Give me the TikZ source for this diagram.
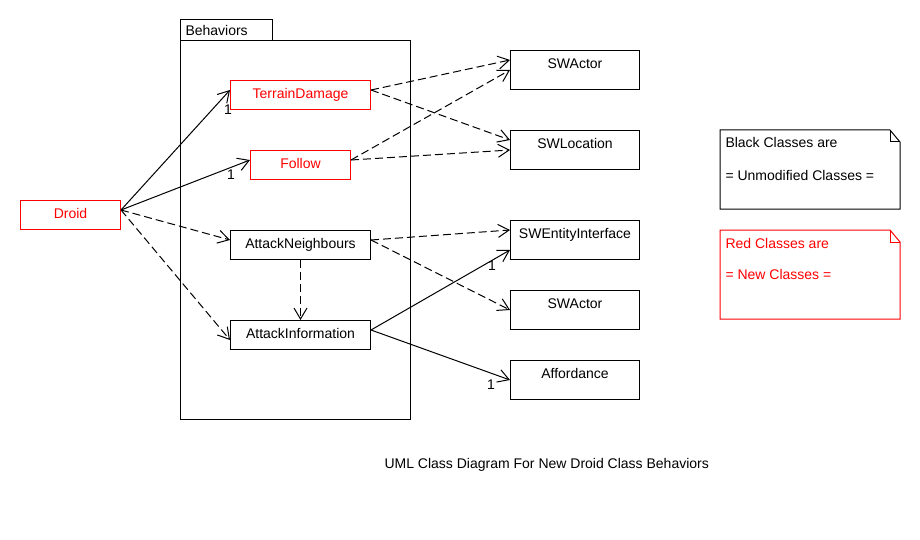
\documentclass[tikz,border=0pt]{standalone}
\usepackage{fontspec}
\setmainfont{Liberation Sans}
\usetikzlibrary{arrows.meta}

\begin{document}
\begin{tikzpicture}[x=1pt,y=-1pt,line width=1pt,
    font=\fontsize{14}{17}\selectfont,
    small_class/.style={draw,rectangle,anchor=north west,minimum height=29pt,text height=10pt,text depth=3pt,inner sep=0pt},
    big_class/.style={draw,rectangle,anchor=north west,minimum width=129pt,minimum height=39pt,text height=10pt,text depth=12.5pt,inner sep=0pt},
    new_class/.style={small_class,red,text=red},
    plain_text/.style={anchor=base west,inner sep=0pt},
    mult/.style={inner sep=0pt,text height=10pt,text depth=0pt},
    solid_link/.style={-{Straight Barb[length=11pt,width=13pt]}},
    dashed_link/.style={solid_link,dash pattern=on 8pt off 4pt}]

    \useasboundingbox (0,0) rectangle (920,540);

    % package
    \draw (180,20) rectangle (272,41);
    \draw (180,41) rectangle (410,419);
    \node[plain_text] (pkg) at (185,36) {Behaviors};

    % classes
    \node[new_class,minimum width=100pt] (droid) at (20,200) {Droid};
    \node[new_class,minimum width=140pt] (terrain) at (230,80) {TerrainDamage};
    \node[new_class,minimum width=100pt] (follow) at (250,150) {Follow};
    \node[small_class,minimum width=140pt] (neigh) at (230,230) {AttackNeighbours};
    \node[small_class,minimum width=140pt] (info) at (230,320) {AttackInformation};

    \node[big_class] (actorA) at (510,50) {SWActor};
    \node[big_class] (location) at (510,130) {SWLocation};
    \node[big_class] (entity) at (510,220) {SWEntityInterface};
    \node[big_class] (actorB) at (510,290) {SWActor};
    \node[big_class] (afford) at (510,360) {Affordance};

    \path[solid_link]
    ([yshift=-10pt]droid.north east) edge node[mult,pos=1,xshift=-2pt,yshift=-20pt] (m1) {1} ([yshift=-10pt]terrain.north west)
    ([yshift=-10pt]droid.north east) edge node[mult,pos=1,xshift=-19pt,yshift=-14pt] (m2) {1} ([yshift=-10pt]follow.north west)
    ([yshift=-10pt]info.north east) edge node[mult,pos=1,xshift=-18pt,yshift=-15pt] (m3) {1} ([yshift=-30pt]entity.north west)
    ([yshift=-10pt]info.north east) edge node[mult,pos=1,xshift=-19pt,yshift=-4pt] (m4) {1} ([yshift=-20pt]afford.north west);

    \path[dashed_link]
    ([yshift=-10pt]droid.north east) edge ([yshift=-10pt]neigh.north west)
    ([yshift=-10pt]droid.north east) edge ([yshift=-20pt]info.north west)
    (neigh.south) edge (info.north)
    ([yshift=-10pt]terrain.north east) edge ([yshift=-10pt]actorA.north west)
    ([yshift=-10pt]terrain.north east) edge ([yshift=-10pt]location.north west)
    ([yshift=-10pt]follow.north east) edge ([yshift=-20pt]actorA.north west)
    ([yshift=-10pt]follow.north east) edge ([yshift=-20pt]location.north west)
    ([yshift=-10pt]neigh.north east) edge ([yshift=-10pt]entity.north west)
    ([yshift=-10pt]neigh.north east) edge ([yshift=-20pt]actorB.north west);

    % notes
    \draw (720,130) -- (890,130) -- (900,142) -- (900,209) -- (720,209) -- cycle;
    \draw (890,130) -- (890,142) -- (900,142);
    \node[plain_text] (blackA) at (725,148) {Black Classes are};
    \node[plain_text] (blackB) at (725,180) {= Unmodified Classes =};

    \draw[red] (720,230) -- (890,230) -- (900,242) -- (900,319) -- (720,319) -- cycle;
    \draw[red] (890,230) -- (890,242) -- (900,242);
    \node[plain_text,red] (redA) at (725,248) {Red Classes are};
    \node[plain_text,red] (redB) at (725,279) {= New Classes =};

    \node[plain_text] (caption) at (384,468) {UML Class Diagram For New Droid Class Behaviors};

\end{tikzpicture}
\end{document}
